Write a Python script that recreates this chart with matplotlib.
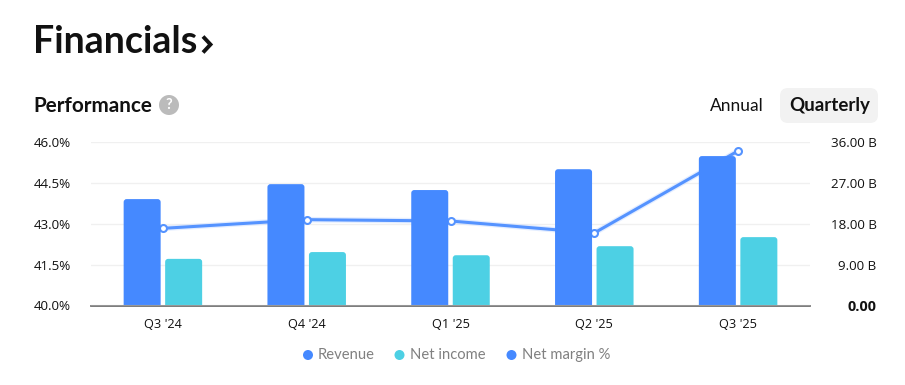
import matplotlib
matplotlib.use("Agg")
import matplotlib.pyplot as plt
from matplotlib.patches import FancyBboxPatch, Circle
import numpy as np

# data
quarters = ["Q3 '24", "Q4 '24", "Q1 '25", "Q2 '25", "Q3 '25"]
revenue = [23.5, 26.8, 25.5, 30.1, 33.0]      # billions
net_income = [10.3, 11.8, 11.1, 13.1, 15.1]   # billions
net_margin = [42.84, 43.16, 43.11, 42.67, 45.69]  # percent
left_ticks = [40.0, 41.5, 43.0, 44.5, 46.0]
right_ticks = [0, 9, 18, 27, 36]
legend_names = ["Revenue", "Net income", "Net margin %"]

BLUE = "#4589ff"
LINE = "#5593ff"
CYAN = "#4dd0e4"
W, H = 905, 385
FONT = "Lato"
TICK_FONT = "Open Sans"

plt.rcParams["font.family"] = FONT

fig = plt.figure(figsize=(W / 100, H / 100), dpi=100)

# plot area in pixels: x 91-810, y 142.5-305.5
ax = fig.add_axes([91 / W, 1 - 305.5 / H, 719 / W, 163 / H])
ax2 = ax.twinx()
ax.set_zorder(1)
ax2.set_zorder(2)
ax2.patch.set_visible(False)

x = np.arange(len(quarters))
ax.set_xlim(-0.5, len(quarters) - 0.5)
ax.set_ylim(40, 46)
ax2.set_ylim(0, 36)

# grid + margin line go under the bars
ax.set_yticks(left_ticks)
ax.set_yticklabels([f"{v:.1f}%" for v in left_ticks], fontsize=9.6,
                   fontfamily=TICK_FONT, color="#111111")
ax.grid(axis="y", color="#f0f0f0", linewidth=1)
ax.set_axisbelow(True)
ax.plot(x, net_margin, "-", color="#c9dcff", linewidth=4, alpha=0.5, zorder=2, clip_on=False)
ax.plot(x, net_margin, "-o", color=LINE, linewidth=2.2, markersize=5,
        markerfacecolor="white", markeredgecolor=LINE, markeredgewidth=1.5,
        zorder=3, clip_on=False)

ax2.set_yticks(right_ticks)
ax2.set_yticklabels(["0.00"] + [f"{v:.2f} B" for v in right_ticks[1:]], fontsize=9.6,
                    fontfamily=TICK_FONT, color="#111111", ha="right")
ax2.get_yticklabels()[0].set_fontweight("bold")
ax2.get_yticklabels()[0].set_fontsize(10.4)

# bar size in data units (37 px wide, 41.5 px between centres)
unit_x = 1 / (719 / 5)
unit_y = 36 / 163
bar_w = 37 * unit_x
offset = 20.75 * unit_x
for xi, r, n in zip(x, revenue, net_income):
    for cx, val, col in ((xi - offset, r, BLUE), (xi + offset, n, CYAN)):
        p = FancyBboxPatch((cx - bar_w / 2, -2), bar_w, val + 2,
                           boxstyle=f"round,pad=0,rounding_size={3 * unit_x}",
                           mutation_aspect=unit_y / unit_x,
                           facecolor=col, edgecolor="none", zorder=2)
        ax2.add_patch(p)

# small white gap above the axis line
ax2.axhline(0, color="white", linewidth=2.2, zorder=3)

ax.set_xticks(x)
ax.set_xticklabels(quarters, fontsize=9.2, fontfamily=TICK_FONT, color="#111111")
for a in (ax, ax2):
    for side in ("top", "left", "right"):
        a.spines[side].set_visible(False)
    a.spines["bottom"].set_color("#777777")
    a.spines["bottom"].set_linewidth(1.1)
    a.spines["bottom"].set_zorder(5)
ax.tick_params(axis="both", length=0)
ax2.tick_params(axis="both", length=0)
ax.tick_params(axis="x", pad=9)
ax.tick_params(axis="y", pad=14.4)
ax2.tick_params(axis="y", pad=48)

# overlay in pixel coordinates for the page furniture
ov = fig.add_axes([0, 0, 1, 1], zorder=0)
ov.set_xlim(0, W)
ov.set_ylim(H, 0)
ov.axis("off")

ov.text(33, 42, "Financials", fontsize=27, fontweight="bold", color="#111111", va="center")
ov.plot([203, 210.5, 203], [36.5, 44.5, 52.5], color="#111111", linewidth=2.8,
        solid_capstyle="butt", solid_joinstyle="miter")
ov.text(33.5, 106.5, "Performance", fontsize=14.9, fontweight="bold", color="#111111", va="center")
ov.add_patch(Circle((169, 105), 10, facecolor="#bbbbbb", edgecolor="none"))
ov.text(169, 105, "?", fontsize=10.5, fontweight="bold", color="white", ha="center", va="center")

ov.add_patch(FancyBboxPatch((780, 88), 98, 35, boxstyle="round,pad=0,rounding_size=8",
                            facecolor="#f2f2f2", edgecolor="none"))
ov.text(736.5, 106, "Annual", fontsize=12.5, color="#111111", ha="center", va="center")
ov.text(829.5, 106, "Quarterly", fontsize=13.5, fontweight="bold", color="#111111",
        ha="center", va="center")

legend_x = [308, 399.5, 511.5]
legend_cols = [BLUE, CYAN, BLUE]
for lx, name, col in zip(legend_x, legend_names, legend_cols):
    ov.add_patch(Circle((lx, 355), 5, facecolor=col, edgecolor="none"))
    ov.text(lx + 10, 355, name, fontsize=10.6, color="#808080", va="center")

fig.savefig("out.png", dpi=100)
